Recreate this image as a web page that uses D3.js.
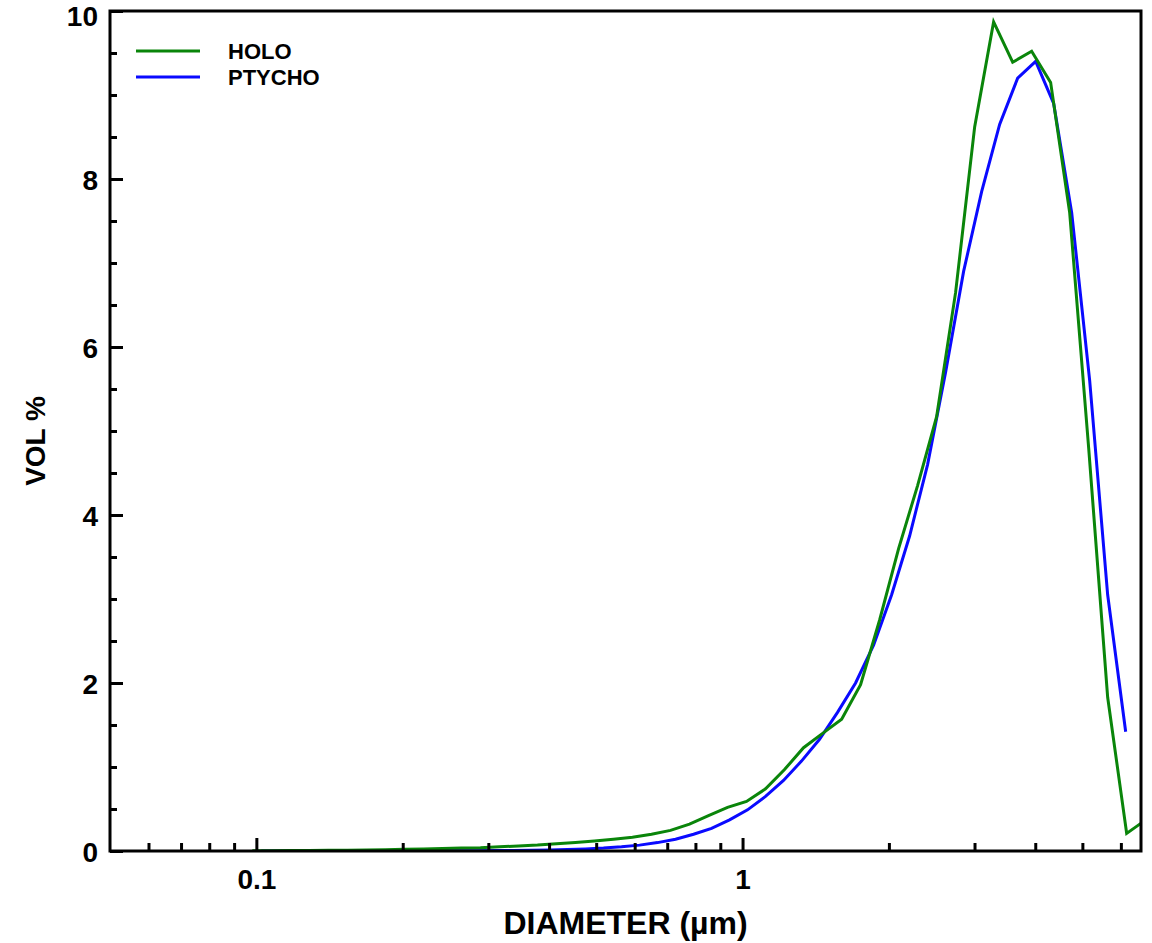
<!DOCTYPE html>
<html>
<head>
<meta charset="utf-8">
<script src="https://cdn.jsdelivr.net/npm/d3@7"></script>
<style>
  html, body { margin: 0; padding: 0; background: #fff; }
  svg text { font-family: "Liberation Sans", Arial, sans-serif; font-weight: bold; fill: #000; }
</style>
</head>
<body>
<svg id="chart" width="1152" height="943"></svg>
<script>
// Particle size distribution: volume % per diameter bin (µm)
const holoDiameter = [0.0981, 0.1074, 0.1175, 0.1285, 0.1406, 0.1539, 0.1684, 0.1842, 0.2016, 0.2206,
  0.2414, 0.2641, 0.2890, 0.3162, 0.3460, 0.3786, 0.4142, 0.4532, 0.4959, 0.5426,
  0.5937, 0.6497, 0.7109, 0.7778, 0.8511, 0.9314, 1.019, 1.115, 1.220, 1.335,
  1.461, 1.599, 1.749, 1.914, 2.094, 2.291, 2.507, 2.743, 3.002, 3.284,
  3.594, 3.932, 4.302, 4.708, 5.151, 5.636, 6.167, 6.748];
const holoVol = [0.003, 0.004, 0.005, 0.006, 0.008, 0.010, 0.012, 0.015, 0.020, 0.025,
  0.030, 0.035, 0.040, 0.050, 0.060, 0.070, 0.085, 0.100, 0.120, 0.140,
  0.165, 0.200, 0.245, 0.320, 0.420, 0.520, 0.590, 0.740, 0.970, 1.230,
  1.400, 1.570, 1.980, 2.750, 3.600, 4.350, 5.170, 6.650, 8.620, 9.870,
  9.390, 9.520, 9.150, 7.600, 4.800, 1.830, 0.210, 0.370];

const ptychoDiameter = [0.1024, 0.1115, 0.1214, 0.1322, 0.1440, 0.1568, 0.1708, 0.1860, 0.2026, 0.2206,
  0.2402, 0.2616, 0.2849, 0.3103, 0.3379, 0.3680, 0.4008, 0.4364, 0.4753, 0.5176,
  0.5637, 0.6139, 0.6685, 0.7280, 0.7929, 0.8634, 0.9403, 1.024, 1.115, 1.214,
  1.322, 1.440, 1.568, 1.708, 1.860, 2.026, 2.206, 2.402, 2.616, 2.849,
  3.103, 3.379, 3.680, 4.008, 4.364, 4.753, 5.176, 5.636, 6.138];
const ptychoVol = [0.000, 0.000, 0.000, 0.000, 0.000, 0.001, 0.001, 0.001, 0.002, 0.002,
  0.003, 0.003, 0.004, 0.005, 0.007, 0.010, 0.013, 0.018, 0.025, 0.035,
  0.050, 0.070, 0.100, 0.140, 0.200, 0.270, 0.370, 0.490, 0.650, 0.840,
  1.070, 1.330, 1.650, 2.000, 2.450, 3.050, 3.750, 4.600, 5.700, 6.900,
  7.850, 8.650, 9.200, 9.400, 8.900, 7.600, 5.600, 3.050, 1.420];

const seriesNames = ["HOLO", "PTYCHO"];
const seriesColors = ["#0a850a", "#0a0aff"];

const xMajorTicks = [0.1, 1];
const xMinorTicks = [0.06, 0.07, 0.08, 0.09, 0.2, 0.3, 0.4, 0.5, 0.6, 0.7, 0.8, 0.9, 2, 3, 4, 5, 6];
const yMajorTicks = [0, 2, 4, 6, 8, 10];
const yMinorTicks = [0.5, 1, 1.5, 2.5, 3, 3.5, 4.5, 5, 5.5, 6.5, 7, 7.5, 8.5, 9, 9.5];

const xTitle = "DIAMETER (µm)";
const yTitle = "VOL %";

const svg = d3.select("#chart");
const margin = { left: 110, right: 11, top: 11, bottom: 92 };
const W = 1152, H = 943;
const x0 = margin.left, x1 = W - margin.right, y0 = margin.top, y1 = H - margin.bottom;

const x = d3.scaleLog().domain([0.05, 6.6]).range([x0, x1]);
const y = d3.scaleLinear().domain([0, 10]).range([y1, y0]);

svg.append("defs").append("clipPath").attr("id", "plotClip")
  .append("rect").attr("x", x0).attr("y", y0 - 5).attr("width", x1 - x0).attr("height", y1 - y0 + 5);

// curves
const line = d3.line().x(d => x(d[0])).y(d => y(d[1]));
const series = [
  d3.zip(holoDiameter, holoVol),
  d3.zip(ptychoDiameter, ptychoVol)
];
const gLines = svg.append("g").attr("clip-path", "url(#plotClip)");
[1, 0].forEach(i => {
  gLines.append("path").datum(series[i])
    .attr("d", line)
    .attr("fill", "none")
    .attr("stroke", seriesColors[i])
    .attr("stroke-width", 3)
    .attr("stroke-linejoin", "miter");
});

// axes (ticks pointing inward)
const xAxisMajor = d3.axisBottom(x).tickValues(xMajorTicks).tickSizeInner(-13).tickSizeOuter(0)
  .tickPadding(18).tickFormat(d => d === 1 ? "1" : String(d));
const xAxisMinor = d3.axisBottom(x).tickValues(xMinorTicks).tickSizeInner(-8).tickSizeOuter(0).tickFormat("");
const yAxisMajor = d3.axisLeft(y).tickValues(yMajorTicks).tickSizeInner(-13).tickSizeOuter(0).tickPadding(12);
const yAxisMinor = d3.axisLeft(y).tickValues(yMinorTicks).tickSizeInner(-7).tickSizeOuter(0).tickFormat("");

function styleAxis(g) {
  g.select(".domain").remove();
  g.selectAll(".tick line").attr("stroke", "#000").attr("stroke-width", 3);
  g.selectAll(".tick text").attr("font-size", 28).attr("font-family", "Liberation Sans, Arial, sans-serif")
    .attr("font-weight", "bold").attr("fill", "#000");
}

svg.append("g").attr("transform", `translate(0,${y1})`).call(xAxisMinor).call(styleAxis);
svg.append("g").attr("transform", `translate(0,${y1})`).call(xAxisMajor).call(styleAxis);
svg.append("g").attr("transform", `translate(${x0},0)`).call(yAxisMinor).call(styleAxis);
const yMajorG = svg.append("g").attr("transform", `translate(${x0},0)`).call(yAxisMajor).call(styleAxis);
yMajorG.selectAll(".tick text").attr("dy", d => d === 10 ? "0.5em" : "0.36em");

// frame
svg.append("rect")
  .attr("x", x0).attr("y", y0).attr("width", x1 - x0).attr("height", y1 - y0)
  .attr("fill", "none").attr("stroke", "#000").attr("stroke-width", 3);

// axis titles
svg.append("text")
  .attr("x", (x0 + x1) / 2).attr("y", 934)
  .attr("text-anchor", "middle").attr("font-size", 32)
  .text(xTitle);
svg.append("text")
  .attr("transform", `translate(45,${(y0 + y1) / 2 + 10}) rotate(-90)`)
  .attr("text-anchor", "middle").attr("font-size", 28)
  .text(yTitle);

// legend
const legend = svg.append("g");
seriesNames.forEach((name, i) => {
  const ly = 51 + i * 26;
  legend.append("line").attr("x1", 136).attr("x2", 200).attr("y1", ly).attr("y2", ly)
    .attr("stroke", seriesColors[i]).attr("stroke-width", 3);
  legend.append("text").attr("x", 228).attr("y", ly + 8).attr("font-size", 22).text(name);
});
</script>
</body>
</html>
